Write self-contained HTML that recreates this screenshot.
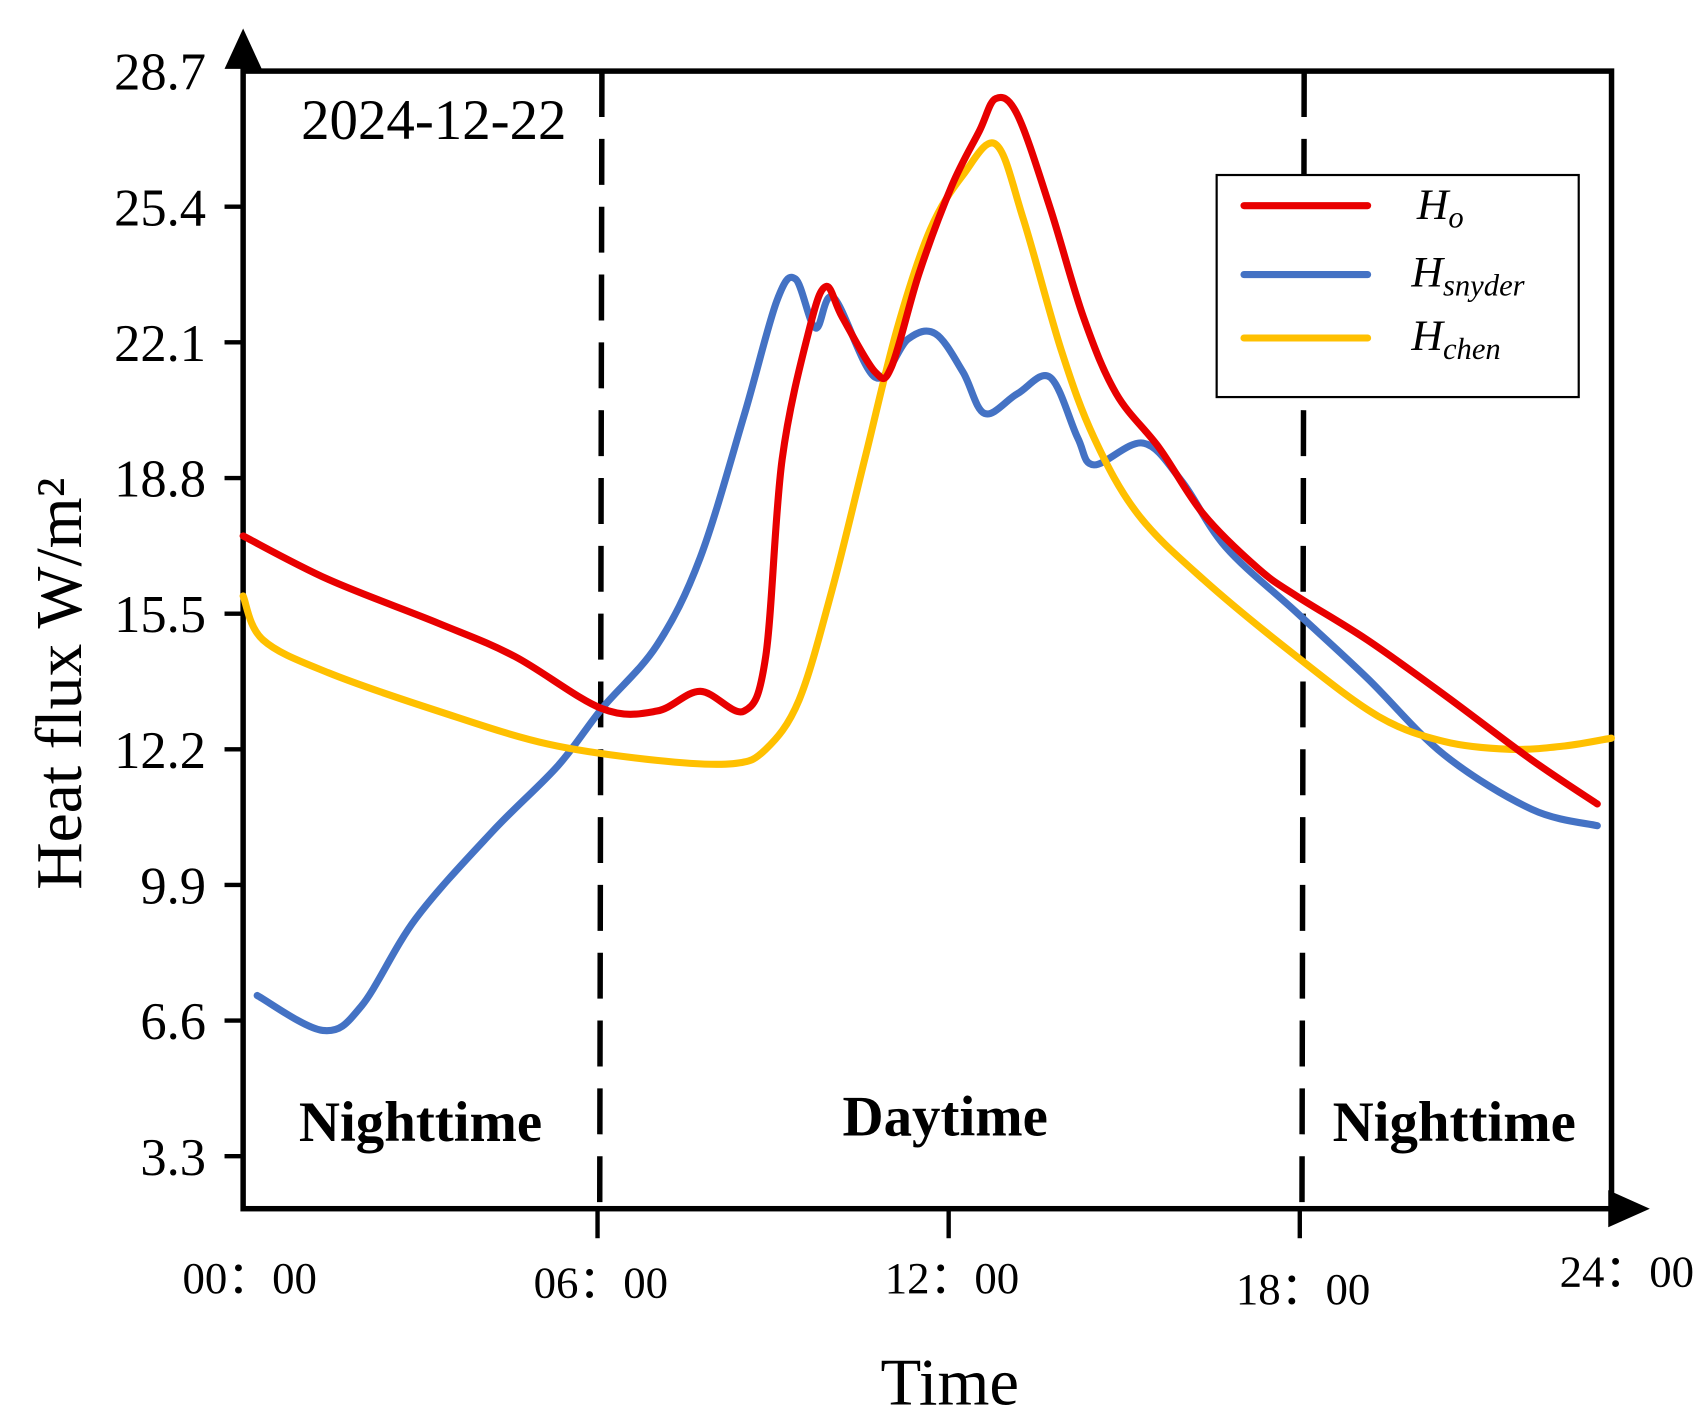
<!DOCTYPE html>
<html><head><meta charset="utf-8"><style>
html,body{margin:0;padding:0;background:#fff;}
svg{display:block;font-family:"Liberation Serif",serif;}
</style></head><body>
<svg id="chart" width="1707" height="1422" viewBox="0 0 1560 1300" xmlns="http://www.w3.org/2000/svg">
<g id="axes"></g>
<g id="series"></g>
<g id="labels"></g>
</svg>
<script>
const yTickLabels = ["28.7","25.4","22.1","18.8","15.5","12.2","9.9","6.6","3.3"];
const xTickHours = [0,6,12,18,24];
const xTickLabels = ["00：00","06：00","12：00","18：00","24：00"];
const hoH = [0,1.46,3.33,4.64,6.13,7.07,7.81,8.56,8.93,9.21,9.68,9.96,10.24,10.8,11.08,11.55,12.11,12.58,12.86,13.23,13.79,14.36,14.92,15.66,16.41,17.35,18,19.21,20.52,22.02,23.14];
const hoV = [17.39,16.33,15.27,14.46,13.19,13.13,13.61,13.13,14.46,19.25,22.45,23.46,22.71,21.38,21.51,23.78,25.91,27.24,28.03,27.64,25.37,22.71,20.85,19.52,17.92,16.59,15.93,14.86,13.53,11.94,10.87];
const snH = [0.24,1.36,2.02,2.95,4.26,5.38,6.13,7.07,7.81,8.56,9.12,9.44,9.78,10.09,10.8,11.36,11.83,12.3,12.67,13.23,13.79,14.26,14.54,15.38,16.04,16.79,18,19.21,20.52,22.02,23.14];
const snV = [6.21,5.36,5.95,8.08,10.2,11.8,13.19,14.73,16.86,20.32,23.11,23.64,22.45,23.19,21.25,22.18,22.31,21.38,20.37,20.85,21.25,19.78,19.12,19.65,18.72,17.12,15.53,13.93,12.07,10.74,10.34];
const chH = [0,0.34,1.46,3.33,5.2,7.07,8.37,8.93,9.5,10.06,10.62,11.18,11.74,12.3,12.86,13.33,13.98,14.54,15.29,16.41,18,19.4,20.52,21.64,22.58,23.38];
const chV = [15.93,14.86,14.06,13.13,12.33,11.93,11.85,12.2,13.4,16.06,19.25,22.45,24.84,26.17,26.92,25.11,21.91,19.78,17.92,16.33,14.46,13.0,12.39,12.2,12.28,12.47];

const NS="http://www.w3.org/2000/svg";
const X0=222, XPH=53.5, Y0=65, STEP=124;
function xs(h){return X0+h*XPH;}
function ys(v){return Y0+(28.7-v)/3.3*STEP;}
function mk(parent,tag,attrs,text){const e=document.createElementNS(NS,tag);for(const k in attrs)e.setAttribute(k,attrs[k]);if(text!==undefined)e.textContent=text;parent.appendChild(e);return e;}
const axes=document.getElementById('axes'), series=document.getElementById('series'), labels=document.getElementById('labels');

let e=mk(axes,'rect',{x:222,y:65,width:1251,height:1040,fill:'none',stroke:'#000','stroke-width':5});


e=mk(axes,'polygon',{points:'205,63 239,63 222,26',fill:'#000'});


e=mk(axes,'polygon',{points:'1470,1088 1470,1122 1508,1105',fill:'#000'});


[6,18].forEach(h=>{
  const l=mk(axes,'line',{x1:xs(h)+7,y1:65,x2:xs(h)+5,y2:1105,stroke:'#000','stroke-width':5,'stroke-dasharray':'42,20'});
  
  
});
yTickLabels.forEach((t,i)=>{
  const y=Y0+i*STEP;
  if(i>0){const tk=mk(axes,'line',{x1:205,y1:y,x2:222,y2:y,stroke:'#000','stroke-width':4});
  
  }
  const tx=mk(labels,'text',{x:188,y:y+17,'text-anchor':'end','font-size':48},t);
  
  
});
const xLabY=[1182,1186,1182,1192,1176];
xTickHours.forEach((h,i)=>{
  if(i>0&&i<4){const tk=mk(axes,'line',{x1:xs(h)+3,y1:1105,x2:xs(h)+3,y2:1132,stroke:'#000','stroke-width':4});
  
  }
  const tx=mk(labels,'text',{x:i==4?1487:xs(h)+6,y:xLabY[i],'text-anchor':'middle','font-size':41},xTickLabels[i]);
  
  
});
function path(H,V){
  const p=H.map((h,i)=>[xs(h),ys(V[i])]);
  let d='M'+p[0][0]+','+p[0][1];
  for(let i=0;i<p.length-1;i++){
    const a=p[i-1]||p[i],b=p[i],c=p[i+1],n=p[i+2]||c;
    d+=' C'+(b[0]+(c[0]-a[0])/6)+','+(b[1]+(c[1]-a[1])/6)+' '+(c[0]-(n[0]-b[0])/6)+','+(c[1]-(n[1]-b[1])/6)+' '+c[0]+','+c[1];
  }
  return d;
}
let s=mk(series,'path',{d:path(snH,snV),fill:'none',stroke:'#4472C4','stroke-width':6.5,'stroke-linecap':'round'});


s=mk(series,'path',{d:path(chH,chV),fill:'none',stroke:'#FFC000','stroke-width':6.5,'stroke-linecap':'round'});


s=mk(series,'path',{d:path(hoH,hoV),fill:'none',stroke:'#E80000','stroke-width':6.5,'stroke-linecap':'round'});


</script>
<script>
const lab=document.getElementById('labels');
lab.insertAdjacentHTML('beforeend',`
<text x="275" y="127" font-size="52">2024-12-22</text>
<text x="273" y="1043" font-size="52" font-weight="bold">Nighttime</text>
<text x="770" y="1038" font-size="52" font-weight="bold">Daytime</text>
<text x="1218" y="1043" font-size="52" font-weight="bold">Nighttime</text>
<text x="868" y="1284" font-size="61" text-anchor="middle">Time</text>
<text transform="translate(74,625) rotate(-90)" font-size="60" text-anchor="middle">Heat flux W/m²</text>
<g>
<rect x="1112" y="160" width="331" height="203" fill="#fff" stroke="#000" stroke-width="2"/>
<line x1="1137" y1="188" x2="1250" y2="188" stroke="#E80000" stroke-width="6.5" stroke-linecap="round"/>
<line x1="1137" y1="251" x2="1250" y2="251" stroke="#4472C4" stroke-width="6.5" stroke-linecap="round"/>
<line x1="1137" y1="309" x2="1250" y2="309" stroke="#FFC000" stroke-width="6.5" stroke-linecap="round"/>
<text x="1295" y="200" font-size="40" font-style="italic">H<tspan font-size="28" dy="8">o</tspan></text>
<text x="1290" y="262" font-size="40" font-style="italic">H<tspan font-size="28" dy="8">snyder</tspan></text>
<text x="1290" y="320" font-size="40" font-style="italic">H<tspan font-size="28" dy="8">chen</tspan></text>
</g>`);
</script>
</body></html>
